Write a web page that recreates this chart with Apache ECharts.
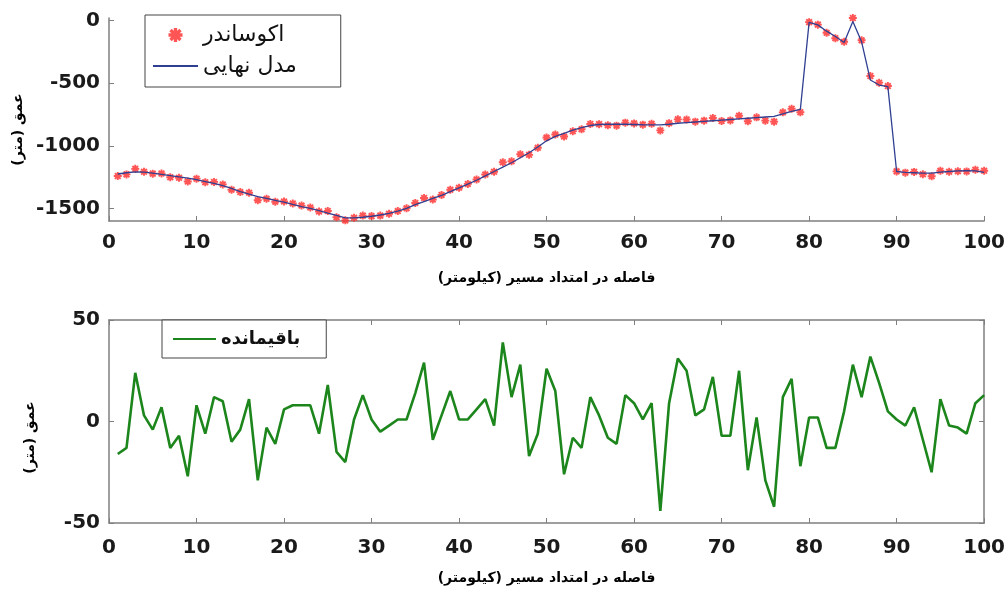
<!DOCTYPE html>
<html>
<head>
<meta charset="utf-8">
<script src="https://cdn.jsdelivr.net/npm/echarts@6/dist/echarts.min.js"></script>
<style>
	html, body { margin: 0; padding: 0; background: #fff; }
	#chart { width: 1008px; height: 594px; }
</style>
</head>
<body>
<div id="chart"></div>
<script>
// Distance along the profile (km)
const distanceKm = Array.from({ length: 100 }, (_, i) => i + 1);

// Echo-sounder depths (m)
const echoDepth = [
	-1241, -1228, -1184, -1207, -1222, -1221, -1251, -1255, -1285, -1262,
	-1291, -1288, -1308, -1350, -1369, -1374, -1434, -1423, -1446, -1444,
	-1460, -1477, -1492, -1524, -1520, -1570, -1595, -1574, -1557, -1561,
	-1557, -1542, -1521, -1499, -1456, -1416, -1429, -1392, -1350, -1334,
	-1304, -1269, -1229, -1207, -1131, -1123, -1067, -1072, -1016, -934,
	-910, -926, -883, -868, -826, -827, -836, -839, -815, -821,
	-831, -824, -877, -819, -789, -790, -807, -799, -778, -802,
	-797, -760, -804, -773, -799, -807, -733, -704, -732, -13,
	-33, -98, -141, -170, 20, -158, -443, -496, -523, -1204,
	-1214, -1208, -1227, -1243, -1199, -1207, -1203, -1204, -1191, -1199,
];

// Final model depth (m), blue line
const modelDepth = [
	-1225, -1215, -1208, -1210, -1218, -1228, -1238, -1248, -1258, -1270,
	-1285, -1300, -1318, -1340, -1365, -1385, -1405, -1420, -1435, -1450,
	-1468, -1485, -1500, -1518, -1538, -1555, -1575, -1575, -1570, -1562,
	-1552, -1540, -1522, -1500, -1470, -1445, -1420, -1395, -1365, -1335,
	-1305, -1275, -1240, -1205, -1170, -1135, -1095, -1055, -1010, -960,
	-925, -900, -875, -855, -838, -830, -828, -828, -828, -830,
	-832, -833, -833, -828, -820, -815, -810, -805, -800, -795,
	-790, -785, -780, -775, -770, -765, -745, -725, -710, -15,
	-35, -85, -128, -175, -8, -170, -475, -515, -528, -1205,
	-1212, -1215, -1218, -1218, -1210, -1205, -1200, -1198, -1200, -1212,
];

// Residual (m), green line
const residual = [
	-16, -13, 24, 3, -4, 7, -13, -7, -27, 8,
	-6, 12, 10, -10, -4, 11, -29, -3, -11, 6,
	8, 8, 8, -6, 18, -15, -20, 1, 13, 1,
	-5, -2, 1, 1, 14, 29, -9, 3, 15, 1,
	1, 6, 11, -2, 39, 12, 28, -17, -6, 26,
	15, -26, -8, -13, 12, 3, -8, -11, 13, 9,
	1, 9, -44, 9, 31, 25, 3, 6, 22, -7,
	-7, 25, -24, 2, -29, -42, 12, 21, -22, 2,
	2, -13, -13, 5, 28, 12, 32, 19, 5, 1,
	-2, 7, -9, -25, 11, -2, -3, -6, 9, 13,
];

const depthTicks = [-1500, -1000, -500, 0];

const RLM = "\u200F";
const depthName = "عمق (متر)" + RLM;
const distName = "فاصله در امتداد مسیر (کیلومتر)" + RLM;

const axisColour = "#7f7f7f";
const labelFont = {
	color: "#1a1a1a",
	fontSize: 20,
	fontWeight: "bold",
	fontFamily: "DejaVu Sans",
	formatter: (v) => String(v),
};
const nameFont = {
	color: "#000",
	fontSize: 14,
	fontWeight: "bold",
	fontFamily: "DejaVu Sans",
};
// MATLAB-like '*' marker
const starPath =
	"path://M-1.2,-5L1.2,-5L1.2,5L-1.2,5Z M-5,-1.2L5,-1.2L5,1.2L-5,1.2Z " +
	"M-4.4,-2.7L-2.7,-4.4L4.4,2.7L2.7,4.4Z M2.7,-4.4L4.4,-2.7L-2.7,4.4L-4.4,2.7Z";
// hides the dot that ECharts puts in the middle of a line legend icon
const noDot = { opacity: 0 };

function xAxisFor(grid, extra) {
	return Object.assign({
		gridIndex: grid,
		type: "value",
		min: 0,
		max: 100,
		interval: 10,
		axisLine: { show: true, onZero: false, lineStyle: { color: axisColour, width: 1.5 } },
		axisTick: { show: true, inside: true, length: 5, lineStyle: { color: axisColour } },
		axisLabel: Object.assign({ margin: 12 }, labelFont),
		splitLine: { show: false },
		name: distName,
		nameLocation: "middle",
		nameGap: 50,
		nameTextStyle: nameFont,
	}, extra);
}

function depthAxis(grid, extra) {
	return Object.assign({
		gridIndex: grid,
		type: "value",
		axisLine: { show: true, onZero: false, lineStyle: { color: axisColour, width: 1.5 } },
		axisTick: { show: true, inside: true, length: 5, lineStyle: { color: axisColour } },
		axisLabel: Object.assign({ margin: 9 }, labelFont),
		splitLine: { show: false },
		name: depthName,
		nameLocation: "middle",
		nameGap: 72,
	}, extra);
}

const option = {
	animation: false,
	backgroundColor: "#fff",
	grid: [
		{ left: 109, width: 877, top: 18, height: 203 },
		{ left: 109, width: 877, top: 320, height: 203 },
	],
	legend: [
		{
			data: [
				{ name: "اکوساندر" },
				{ name: "مدل نهایی", itemStyle: noDot },
			],
			left: 145,
			top: 15,
			orient: "vertical",
			itemWidth: 45,
			itemHeight: 14,
			itemGap: 9,
			padding: [9, 44, 10, 7],
			borderColor: "#444",
			borderWidth: 1,
			backgroundColor: "#fff",
			textStyle: { color: "#111", fontSize: 22, fontFamily: "DejaVu Sans" },
		},
		{
			data: [{ name: "باقیمانده", itemStyle: noDot }],
			left: 162,
			top: 320,
			itemWidth: 43,
			itemHeight: 14,
			padding: [10, 26, 10, 10],
			borderColor: "#444",
			borderWidth: 1,
			backgroundColor: "#fff",
			textStyle: { color: "#111", fontSize: 18, fontWeight: "bold", fontFamily: "DejaVu Sans" },
		},
	],
	xAxis: [
		xAxisFor(0, {}),
		xAxisFor(1, { nameGap: 48, axisLabel: Object.assign({ margin: 15 }, labelFont) }),
		xAxisFor(1, { position: "top", name: "", axisLabel: { show: false } }),
	],
	yAxis: [
		depthAxis(0, {
			min: -1600,
			max: 20,
			axisTick: { show: true, inside: true, length: 5, customValues: depthTicks, lineStyle: { color: axisColour } },
			axisLabel: Object.assign({ margin: 9, customValues: depthTicks }, labelFont),
			nameTextStyle: Object.assign({ padding: [0, 20, 0, 0] }, nameFont),
		}),
		depthAxis(1, {
			min: -50,
			max: 50,
			interval: 50,
			nameTextStyle: Object.assign({ padding: [0, 32, 0, 0] }, nameFont),
		}),
		depthAxis(1, {
			position: "right",
			min: -50,
			max: 50,
			interval: 50,
			axisLabel: { show: false },
			name: "",
		}),
	],
	series: [
		{
			name: "اکوساندر",
			type: "scatter",
			xAxisIndex: 0,
			yAxisIndex: 0,
			symbol: starPath,
			symbolSize: 8,
			itemStyle: { color: "#ff2a2a", opacity: 0.8 },
			data: distanceKm.map((d, i) => [d, echoDepth[i]]),
			z: 2,
		},
		{
			name: "مدل نهایی",
			type: "line",
			xAxisIndex: 0,
			yAxisIndex: 0,
			symbol: "none",
			lineStyle: { color: "#2f3f92", width: 1.3 },
			itemStyle: { color: "#2f3f92" },
			data: distanceKm.map((d, i) => [d, modelDepth[i]]),
			z: 3,
		},
		{
			name: "باقیمانده",
			type: "line",
			xAxisIndex: 1,
			yAxisIndex: 1,
			symbol: "none",
			lineStyle: { color: "#1c861c", width: 2.6 },
			itemStyle: { color: "#1c861c" },
			data: distanceKm.map((d, i) => [d, residual[i]]),
		},
	],
};

const chart = echarts.init(document.getElementById("chart"));
chart.setOption(option);
</script>
</body>
</html>
